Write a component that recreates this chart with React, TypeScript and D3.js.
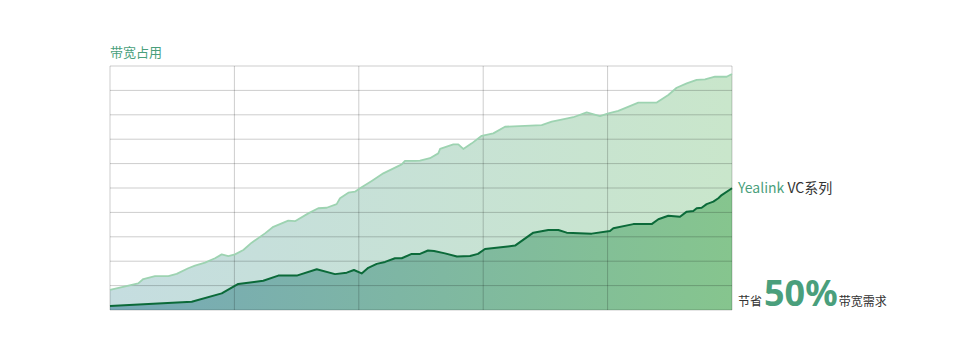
import React from "react";
import * as d3 from "d3";

const W = 967;
const H = 358;

const upperX = [0, 2.27, 2.68, 3.62, 4.69, 5.36, 6.29, 6.83, 7.64, 8.44, 8.98, 9.51, 10.05, 10.72, 11.39, 12.46, 13.13, 14.33, 14.87, 15.94, 16.74, 17.42, 18.22, 18.49, 19.16, 19.69, 20.1, 21.04, 21.97, 23.45, 23.71, 24.52, 24.92, 25.72, 26.39, 26.53, 27.6, 28.0, 28.4, 29.08, 29.88, 30.81, 31.75, 34.7, 35.51, 36.58, 37.24, 38.32, 39.39, 40.06, 40.86, 42.47, 43.95, 44.88, 45.55, 46.36, 47.16, 47.83, 48.63, 49.57, 50];
const upperY = [0.82, 1.09, 1.27, 1.39, 1.39, 1.48, 1.71, 1.82, 1.94, 2.12, 2.28, 2.21, 2.28, 2.46, 2.76, 3.14, 3.41, 3.66, 3.64, 3.96, 4.17, 4.19, 4.34, 4.58, 4.81, 4.85, 4.99, 5.29, 5.6, 5.97, 6.11, 6.11, 6.12, 6.22, 6.42, 6.6, 6.79, 6.79, 6.6, 6.83, 7.14, 7.24, 7.51, 7.58, 7.72, 7.83, 7.9, 8.1, 7.95, 8.06, 8.16, 8.5, 8.5, 8.81, 9.11, 9.29, 9.43, 9.45, 9.56, 9.56, 9.67];

const lowerX = [0, 6.57, 8.98, 10.31, 12.32, 13.53, 15.01, 16.62, 18.09, 19.03, 19.61, 20.23, 20.76, 21.44, 22.11, 22.91, 23.45, 24.25, 24.92, 25.56, 26.05, 26.93, 27.89, 28.94, 29.58, 30.14, 32.56, 34.03, 35.23, 36.04, 36.71, 38.72, 40.19, 40.46, 42.07, 43.54, 44.08, 44.88, 45.82, 46.36, 46.89, 47.16, 47.56, 47.96, 48.5, 48.9, 49.17, 50];
const lowerY = [0.16, 0.34, 0.68, 1.07, 1.2, 1.41, 1.41, 1.67, 1.47, 1.53, 1.64, 1.5, 1.73, 1.89, 1.97, 2.12, 2.12, 2.3, 2.3, 2.44, 2.42, 2.32, 2.19, 2.21, 2.3, 2.5, 2.64, 3.17, 3.28, 3.28, 3.17, 3.13, 3.24, 3.35, 3.52, 3.52, 3.72, 3.86, 3.82, 4.03, 4.06, 4.17, 4.19, 4.34, 4.44, 4.58, 4.71, 4.99];

const xTicks = [0, 10, 20, 30, 40, 50];
const yTicks = [0, 1, 2, 3, 4, 5, 6, 7, 8, 9, 10];

const titleText = "带宽占用";
const seriesBrand = "Yealink";
const seriesName = " VC系列";
const savePrefix = "节省";
const saveValue = "50%";
const saveSuffix = "带宽需求";

const left = 110;
const right = 732;
const top = 66;
const bottom = 310;

export default function App() {
  const x = d3.scaleLinear().domain([0, 50]).range([left, right]);
  const y = d3.scaleLinear().domain([0, 10]).range([bottom, top]);

  const upper = upperX.map((v, i) => [v, upperY[i]] as [number, number]);
  const lower = lowerX.map((v, i) => [v, lowerY[i]] as [number, number]);

  const area = d3
    .area<[number, number]>()
    .x((d) => x(d[0]))
    .y0(y(0))
    .y1((d) => y(d[1]))
    .curve(d3.curveLinear);
  const line = d3
    .line<[number, number]>()
    .x((d) => x(d[0]))
    .y((d) => y(d[1]))
    .curve(d3.curveLinear);

  const font = "'Noto Sans CJK SC', 'Noto Sans', sans-serif";

  return (
    <svg
      width={W}
      height={H}
      style={{ position: "absolute", left: 0, top: 0, background: "#fff" }}
    >
      <defs>
        <linearGradient id="gUpper" x1="0" x2="1" y1="0" y2="0">
          <stop offset="0%" stopColor="#c5dde0" />
          <stop offset="100%" stopColor="#c9e6cb" />
        </linearGradient>
        <linearGradient id="gLower" x1="0" x2="1" y1="0" y2="0">
          <stop offset="0%" stopColor="#77a9b7" />
          <stop offset="100%" stopColor="#86c58e" />
        </linearGradient>
      </defs>

      <path d={area(upper) || ""} fill="url(#gUpper)" />
      <path d={area(lower) || ""} fill="url(#gLower)" />

      {yTicks.map((t) => (
        <line
          key={"h" + t}
          x1={left}
          x2={right}
          y1={y(t)}
          y2={y(t)}
          stroke="rgba(0,0,0,0.2)"
          strokeWidth={1}
        />
      ))}
      {xTicks.map((t) => (
        <line
          key={"v" + t}
          x1={x(t)}
          x2={x(t)}
          y1={top}
          y2={bottom}
          stroke="rgba(0,0,0,0.2)"
          strokeWidth={1}
        />
      ))}

      <path d={line(upper) || ""} fill="none" stroke="#9dd3b1" strokeWidth={1.8} strokeLinejoin="round" />
      <path d={line(lower) || ""} fill="none" stroke="#0b6a39" strokeWidth={2} strokeLinejoin="round" />

      <text x={left} y={57} fontFamily={font} fontSize={13} fill="#4a9f7c">
        {titleText}
      </text>

      <text x={738} y={193} fontFamily={font} fontSize={14}>
        <tspan fill="#4a9f7c">{seriesBrand}</tspan>
        <tspan fill="#333">{seriesName}</tspan>
      </text>

      <text x={738} y={306} fontFamily={font} fontSize={12} fill="#333">
        <tspan>{savePrefix}</tspan>
        <tspan dx={2} fontSize={36} fontWeight="bold" fill="#4a9f7c" fontFamily="'Noto Sans', sans-serif">
          {saveValue}
        </tspan>
        <tspan dx={1}>{saveSuffix}</tspan>
      </text>
    </svg>
  );
}
